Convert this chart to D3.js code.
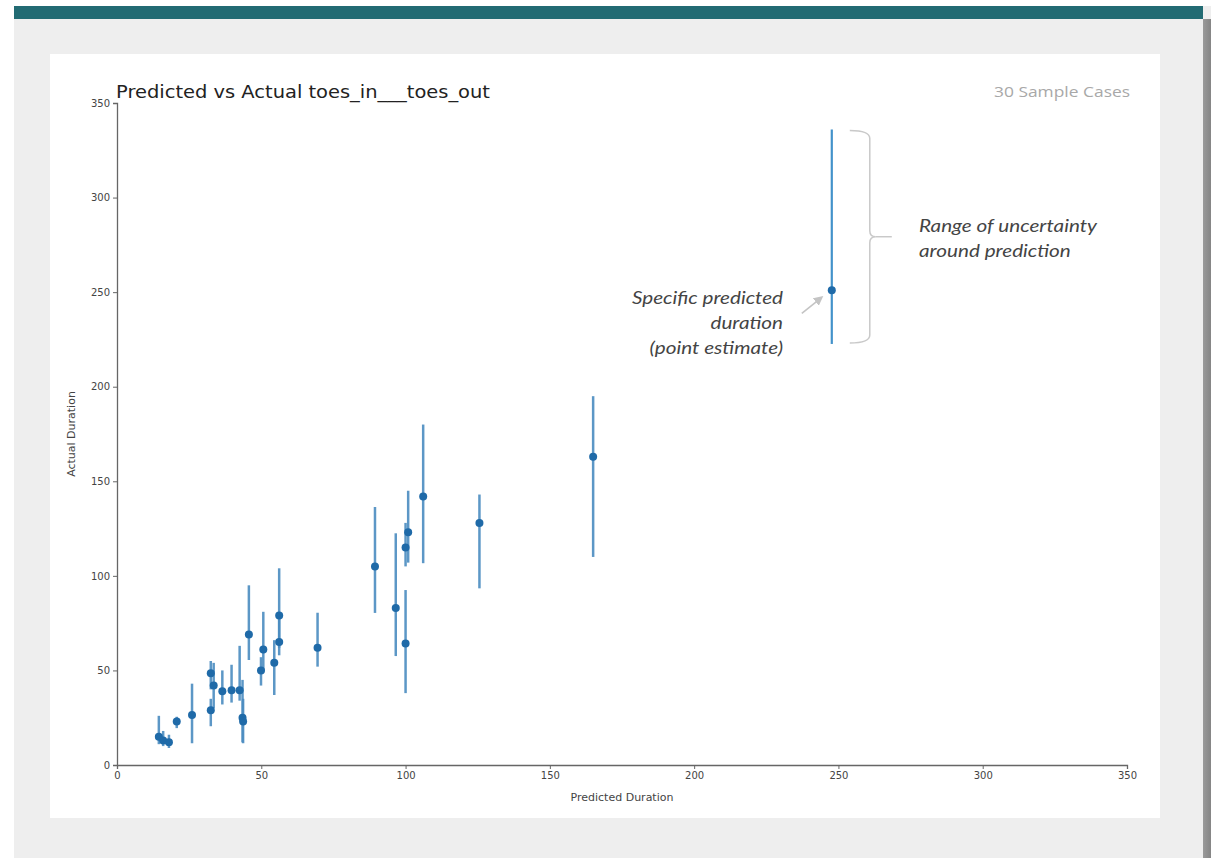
<!DOCTYPE html>
<html>
<head>
<meta charset="utf-8">
<script src="https://cdn.jsdelivr.net/npm/d3@7"></script>
<style>
  html, body { margin: 0; padding: 0; background: #ffffff; }
  svg { display: block; }
</style>
</head>
<body>
<script>
// ---- data ----
const predicted = [14.5, 16, 18, 20.7, 26, 32.5, 33.5, 32.5, 36.5, 39.7, 42.5, 43.5, 43.7, 45.7, 49.9, 50.7, 54.5, 56.2, 56.2, 69.5, 89.4, 96.6, 100, 100, 100.9, 106.1, 125.6, 165, 247.7];
const actual    = [15, 13, 12, 23, 26.5, 48.5, 42, 29, 39, 39.5, 39.5, 25, 23, 69, 50, 61, 54, 65, 79, 62, 105, 83, 64.3, 115, 123, 142, 128, 163, 251];
const lower     = [11, 10, 9, 19.5, 11.5, 40, 30, 20.5, 32, 33, 34, 12, 11.5, 55.5, 42, 50, 37, 58, 62, 52, 80.4, 57.6, 38, 105, 107, 106.7, 93.4, 110, 222.6];
const upper     = [26, 18, 16, 25.5, 43, 55, 54, 35, 50, 53, 63, 45, 35, 95, 57, 81, 66, 79, 104, 80.5, 136.4, 122.5, 92.5, 128, 145, 180, 143, 195, 336];
const tickValues = [0, 50, 100, 150, 200, 250, 300, 350];
const titleText = "Predicted vs Actual toes_in___toes_out";
const subtitleText = "30 Sample Cases";
const xLabel = "Predicted Duration";
const yLabel = "Actual Duration";
const noteRange = ["Range of uncertainty", "around prediction"];
const notePoint = ["Specific predicted", "duration", "(point estimate)"];
const highlightIndex = 28;

const W = 1211, H = 858;
const svg = d3.select("body").append("svg").attr("width", W).attr("height", H);

// page frame
svg.append("rect").attr("x", 14).attr("y", 6).attr("width", 1197).attr("height", 852).attr("fill", "#eeeeee");
svg.append("rect").attr("x", 14).attr("y", 6).attr("width", 1189).attr("height", 13).attr("fill", "#226b73");
const grad = svg.append("defs").append("linearGradient").attr("id", "sh").attr("x1", 0).attr("x2", 1);
grad.append("stop").attr("offset", 0).attr("stop-color", "#9a9a9a");
grad.append("stop").attr("offset", 1).attr("stop-color", "#858585");
svg.append("rect").attr("x", 1203).attr("y", 19).attr("width", 8).attr("height", 839).attr("fill", "url(#sh)");
svg.append("rect").attr("x", 50).attr("y", 54).attr("width", 1110).attr("height", 764).attr("fill", "#ffffff");

// scales
const x = d3.scaleLinear().domain([0, 350]).range([117, 1127]);
const y = d3.scaleLinear().domain([0, 350]).range([765, 103]);

// axes
const fontTick = "DejaVu Sans, sans-serif";
const gx = svg.append("g").attr("transform", `translate(0,${y(0)})`)
  .call(d3.axisBottom(x).tickValues(tickValues).tickSize(4).tickPadding(3));
const gy = svg.append("g").attr("transform", `translate(${x(0)},0)`)
  .call(d3.axisLeft(y).tickValues(tickValues).tickSize(4).tickPadding(3));
[gx, gy].forEach(g => {
  g.select(".domain").attr("stroke", "#666").attr("stroke-width", 1.3);
  g.selectAll(".tick line").attr("stroke", "#666");
  g.selectAll(".tick text").attr("fill", "#444").attr("font-size", 10).attr("font-family", fontTick);
});

// axis labels
svg.append("text").attr("x", (x(0) + x(350)) / 2).attr("y", 801).attr("text-anchor", "middle")
  .attr("font-family", fontTick).attr("font-size", 11).attr("fill", "#444").text(xLabel);
svg.append("text").attr("transform", `translate(75,${(y(0) + y(350)) / 2}) rotate(-90)`).attr("text-anchor", "middle")
  .attr("font-family", fontTick).attr("font-size", 11).attr("fill", "#444").text(yLabel);

// title
svg.append("text").attr("x", 116).attr("y", 98).attr("font-family", fontTick).attr("font-size", 18)
  .attr("textLength", 374).attr("lengthAdjust", "spacingAndGlyphs")
  .attr("fill", "#222").text(titleText);
svg.append("text").attr("x", 994).attr("y", 97).attr("font-family", "Open Sans, sans-serif")
  .attr("font-size", 14.5).attr("textLength", 136).attr("lengthAdjust", "spacingAndGlyphs")
  .attr("fill", "#a8a8a8").text(subtitleText);

// error bars + points
const data = predicted.map((p, i) => ({ p, a: actual[i], lo: lower[i], hi: upper[i], i }));
svg.append("g").selectAll("line").data(data).join("line")
  .attr("x1", d => x(d.p)).attr("x2", d => x(d.p))
  .attr("y1", d => y(d.lo)).attr("y2", d => y(d.hi))
  .attr("stroke", d => d.i === highlightIndex ? "#2f86c4" : "#4a8cc0")
  .attr("stroke-width", d => d.i === highlightIndex ? 2.2 : 2.5)
  .attr("stroke-opacity", 0.9);
svg.append("g").selectAll("circle").data(data).join("circle")
  .attr("cx", d => x(d.p)).attr("cy", d => y(d.a)).attr("r", 4)
  .attr("fill", "#1f6aa8");

// brace annotation
const hd = data[highlightIndex];
const bTop = y(hd.hi) + 1, bBot = y(hd.lo) - 1, bMid = (bTop + bBot) / 2;
const bx0 = x(hd.p) + 18, bx1 = x(hd.p) + 38;
svg.append("path")
  .attr("d", `M${bx0},${bTop} Q${bx1},${bTop} ${bx1},${bTop + 8} L${bx1},${bMid - 6} Q${bx1},${bMid} ${bx1 + 6},${bMid} Q${bx1},${bMid} ${bx1},${bMid + 6} L${bx1},${bBot - 8} Q${bx1},${bBot} ${bx0},${bBot}`)
  .attr("fill", "none").attr("stroke", "#c9c9c9").attr("stroke-width", 1.5);
svg.append("line").attr("x1", bx1 + 6).attr("x2", bx1 + 22).attr("y1", bMid).attr("y2", bMid)
  .attr("stroke", "#c9c9c9").attr("stroke-width", 1.5);

const noteFont = "Lato, Open Sans, sans-serif";
svg.append("g").selectAll("text").data(noteRange).join("text")
  .attr("transform", (d, i) => `translate(919,${232 + i * 25}) scale(1.15,1)`)
  .attr("font-family", noteFont).attr("font-style", "italic").attr("font-size", 18)
  .attr("fill", "#444").text(d => d);
svg.append("g").selectAll("text").data(notePoint).join("text")
  .attr("transform", (d, i) => `translate(783,${304 + i * 25}) scale(1.15,1)`).attr("text-anchor", "end")
  .attr("font-family", noteFont).attr("font-style", "italic").attr("font-size", 18)
  .attr("fill", "#444").text(d => d);

// arrow
const defs = svg.select("defs");
defs.append("marker").attr("id", "ah").attr("viewBox", "0 0 10 10").attr("refX", 8).attr("refY", 5)
  .attr("markerWidth", 6).attr("markerHeight", 6).attr("orient", "auto")
  .append("path").attr("d", "M0,0 L10,5 L0,10 Z").attr("fill", "#c4c4c4");
svg.append("line").attr("x1", x(hd.p) - 30).attr("y1", y(hd.a) + 23).attr("x2", x(hd.p) - 10).attr("y2", y(hd.a) + 7)
  .attr("stroke", "#c4c4c4").attr("stroke-width", 1.6).attr("marker-end", "url(#ah)");
</script>
</body>
</html>
